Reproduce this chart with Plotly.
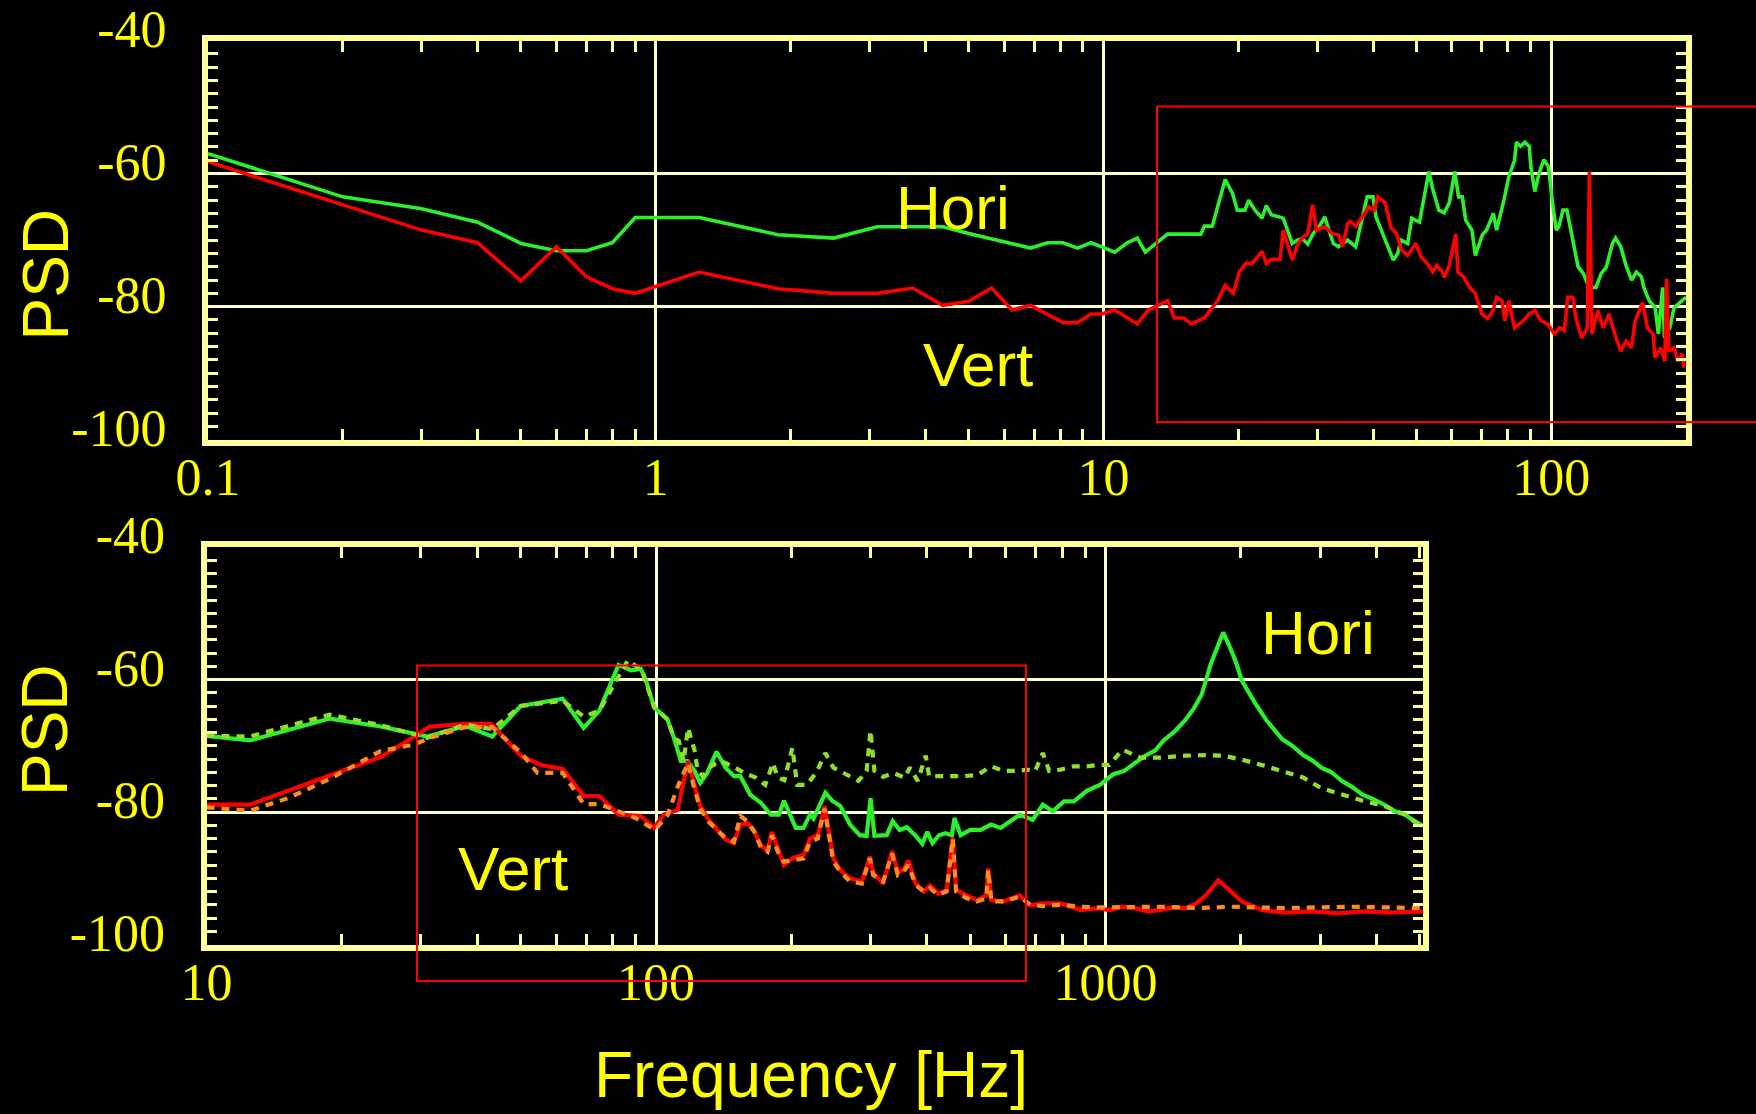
import math
import plotly.graph_objects as go

# ---------------- data ----------------
# Top panel : 0.1 - 200 Hz
top_hori_f = [0.1, 0.2, 0.3, 0.4, 0.5, 0.6, 0.7, 0.8, 0.9, 1.25, 1.875, 2.5, 3.125, 4.375, 5.0,
              6.875, 7.5, 8.125, 8.75, 9.375, 9.9, 10.6, 11.3, 11.9, 12.4, 13.9, 16.5, 16.8, 17.5,
              18.7, 19.4, 19.9, 20.7, 21.1, 21.8, 22.6, 23.1, 23.7, 25.2, 26.4, 27.1, 27.8, 28.6,
              29.4, 30.3, 31.2, 32.6, 33.5, 35.1, 36.6, 37.6, 38.8, 40.0, 40.6, 42.6, 44.4, 45.4,
              46.2, 47.8, 48.8, 50.8, 53.3, 54.4, 56.1, 57.7, 59.2, 60.9, 62.1, 63.3, 64.4, 66.5,
              67.7, 70.2, 71.7, 74.3, 75.5, 78.4, 80.4, 82.8, 83.6, 85.4, 87.3, 89.3, 90.1, 91.9,
              94.0, 96.3, 98.6, 100.9, 102.6, 104.0, 106.2, 108.4, 111.8, 114.8, 117.9, 121.5,
              125.9, 129.4, 132.7, 137.0, 139.2, 143.0, 146.9, 151.2, 155.0, 159.0, 161.0, 165.5,
              170.6, 173.5, 177.4, 179.0, 184.0, 188.0, 196.0, 200.0]
top_hori_db = [-57.0, -63.5, -65.3, -67.3, -70.5, -71.6, -71.6, -70.4, -66.6, -66.6, -69.2, -69.7,
               -68.0, -68.0, -69.0, -71.2, -70.4, -70.4, -71.2, -70.4, -71.0, -71.8, -70.4, -69.7,
               -71.8, -69.1, -69.1, -67.9, -67.9, -60.9, -62.9, -65.5, -65.5, -64.0, -65.5, -66.7,
               -64.8, -66.2, -66.7, -70.5, -70.0, -69.8, -70.6, -69.0, -68.0, -66.5, -70.5, -71.0,
               -70.0, -71.0, -67.5, -63.5, -63.5, -66.5, -70.0, -73.0, -72.0, -70.0, -70.5, -66.7,
               -67.3, -59.7, -62.4, -65.5, -65.9, -64.4, -59.7, -63.5, -63.5, -67.0, -68.5, -72.3,
               -69.2, -68.5, -66.0, -68.5, -64.0, -60.5, -58.0, -55.3, -55.9, -55.3, -55.9, -59.1,
               -62.7, -59.9, -57.9, -59.0, -65.0, -68.5, -68.0, -65.5, -65.5, -70.0, -74.0, -75.0,
               -77.1, -77.1, -75.0, -74.1, -70.5, -69.7, -71.0, -73.8, -76.0, -74.8, -75.5, -77.1,
               -79.1, -80.1, -84.1, -77.1, -84.7, -83.2, -80.2, -79.1, -78.6]

top_vert_f = [0.1, 0.2, 0.3, 0.4, 0.5, 0.6, 0.7, 0.8, 0.9, 1.25, 1.875, 2.5, 3.125, 3.75, 4.375,
              5.0, 5.625, 6.25, 6.875, 8.125, 8.75, 9.375, 9.9, 10.6, 11.9, 12.6, 13.9, 14.4,
              15.1, 15.7, 16.8, 18.0, 18.7, 19.5, 20.1, 20.8, 21.5, 22.6, 23.1, 23.7, 24.8, 25.2,
              26.4, 27.2, 27.8, 28.6, 29.3, 29.9, 31.2, 32.6, 33.5, 34.2, 35.1, 35.6, 36.6, 38.3,
              39.1, 40.2, 41.0, 42.6, 43.9, 45.1, 46.3, 47.8, 49.8, 51.2, 53.3, 54.4, 55.5, 57.2,
              57.7, 59.2, 61.2, 61.9, 63.9, 65.7, 67.7, 70.0, 72.1, 74.1, 75.5, 77.6, 78.8, 80.4,
              82.8, 86.6, 89.3, 91.9, 94.8, 98.2, 101.6, 104.5, 106.9, 108.9, 111.8, 113.5, 117.0,
              120.4, 121.7, 123.3, 127.0, 130.7, 134.6, 138.7, 143.0, 147.0, 151.0, 154.0, 160.0,
              164.0, 168.8, 170.5, 175.6, 179.4, 181.0, 183.0, 188.0, 191.8, 196.0, 198.0]
top_vert_db = [-58.2, -64.7, -68.5, -70.4, -76.1, -71.0, -75.5, -77.3, -78.0, -74.8, -77.3, -78.0,
               -78.0, -77.2, -79.8, -79.2, -77.2, -80.5, -79.8, -82.4, -82.4, -81.1, -81.1, -80.5,
               -82.6, -80.5, -79.1, -81.7, -81.7, -82.6, -81.7, -79.1, -76.8, -78.0, -74.8, -73.5,
               -73.5, -71.7, -73.5, -72.9, -72.9, -68.5, -73.0, -70.5, -69.7, -69.0, -64.7, -68.5,
               -68.0, -69.1, -69.2, -71.0, -67.5, -67.2, -67.9, -66.0, -65.0, -65.5, -63.5, -64.4,
               -68.2, -69.0, -71.5, -72.3, -70.5, -72.5, -73.8, -74.8, -73.8, -74.8, -75.6, -73.8,
               -69.1, -74.8, -75.6, -77.1, -78.0, -81.1, -81.8, -80.6, -78.6, -79.1, -82.1, -79.1,
               -83.2, -82.1, -81.1, -80.6, -82.1, -82.6, -84.1, -83.2, -83.6, -78.6, -78.6, -81.7,
               -84.7, -83.2, -59.7, -84.1, -80.6, -83.2, -81.1, -84.1, -86.7, -85.2, -86.2, -82.1,
               -79.4, -83.2, -84.1, -87.7, -86.2, -88.2, -75.8, -86.7, -86.2, -88.2, -87.1, -89.2]

# Bottom panel : 10 - 5000 Hz
bot_hori_f = [10, 12.5, 18.8, 24.4, 31, 37.6, 43.2, 50, 62, 69, 74.8, 82.5, 88, 92.5, 95, 99, 106,
              109.6, 113.5, 117.4, 121.7, 125.4, 130, 136.3, 142.8, 149, 154, 162, 171, 180, 187.6,
              192.5, 204.5, 212.8, 220, 224, 238, 246.5, 257, 270, 284, 294, 300, 306, 326, 336,
              348, 361, 377, 391, 401, 412, 426, 440, 455, 461, 476, 500, 527, 556, 584, 613, 644,
              688, 725, 763, 808, 850, 908, 971, 1040, 1100, 1160, 1224, 1290, 1346, 1420, 1505,
              1570, 1635, 1713, 1781, 1826, 1892, 1950, 2010, 2080, 2147, 2282, 2380, 2470, 2600,
              2750, 2880, 3020, 3180, 3350, 3530, 3730, 3950, 4170, 4400, 4640, 4850, 5080]
bot_hori_db = [-68.5, -69.2, -65.9, -67.1, -68.6, -67.0, -68.6, -64.0, -62.9, -67.3, -64.7, -57.8,
               -58.6, -58.4, -60.2, -64.2, -66.0, -68.8, -72.3, -72.3, -73.8, -75.6, -74.1, -70.9,
               -73.3, -74.6, -74.6, -77.4, -78.6, -80.4, -80.4, -78.3, -82.4, -82.4, -80.4, -81.0,
               -77.1, -78.3, -79.1, -81.9, -83.5, -83.6, -77.9, -83.6, -83.5, -81.4, -82.7, -82.3,
               -83.5, -84.8, -83.0, -84.7, -83.5, -83.2, -83.5, -80.9, -83.5, -82.7, -82.7, -81.9,
               -82.4, -81.4, -80.4, -81.2, -78.9, -79.9, -78.4, -78.4, -76.8, -75.9, -74.3, -73.8,
               -72.6, -71.5, -70.7, -69.2, -67.9, -66.1, -64.4, -62.3, -57.7, -54.8, -52.9, -55.2,
               -57.4, -60.2, -62.0, -63.5, -66.2, -67.7, -69.0, -70.0, -71.4, -72.2, -73.3, -74.0,
               -75.3, -76.2, -77.4, -78.1, -78.9, -79.9, -80.4, -81.3, -82.1]

bot_hori_ref_f = [10, 12.5, 18.8, 24.4, 31, 37.6, 43.2, 50, 62, 69, 74.8, 86.5, 93, 99, 106, 109.6,
                  112.4, 115.1, 117.8, 121.7, 123.8, 127, 132.4, 139.2, 148, 157, 166.6, 175, 182,
                  186.5, 193, 201, 206, 216.5, 227, 238, 248, 267, 282, 294, 300, 306, 320, 337,
                  357, 367, 382, 398, 405, 422, 450, 482, 519, 556, 593, 635, 671, 697, 725, 749,
                  795, 850, 908, 964, 1019, 1090, 1196, 1320, 1505, 1665, 1826, 2010, 2225, 2470,
                  2750, 3020, 3350, 3730, 4170, 4640, 5080]
bot_hori_ref_db = [-68.5, -68.6, -65.3, -66.9, -68.8, -66.8, -67.5, -64.0, -63.2, -65.6, -64.7,
                   -57.1, -58.6, -64.2, -66.0, -68.8, -69.3, -72.3, -67.3, -70.6, -73.8, -74.6,
                   -73.1, -72.3, -73.1, -74.1, -74.8, -75.9, -72.6, -74.8, -75.2, -70.3, -75.9,
                   -75.9, -74.1, -71.1, -73.3, -74.4, -75.3, -73.8, -67.7, -73.8, -74.7, -74.1,
                   -74.8, -73.3, -75.3, -71.5, -74.6, -74.6, -74.6, -74.6, -74.4, -73.1, -73.8,
                   -73.8, -73.6, -73.8, -71.1, -73.8, -73.6, -73.1, -73.1, -72.9, -72.9, -70.6,
                   -71.8, -71.8, -71.5, -71.4, -71.5, -72.1, -72.9, -73.8, -74.8, -76.4, -77.4,
                   -78.3, -79.1, -80.4, -82.4]

bot_vert_f = [10, 12.5, 18.8, 24.4, 28.7, 31.4, 37.6, 43, 50, 55.4, 62, 69, 74.8, 82.5, 92.5, 99,
              104, 111.7, 117.8, 121.7, 125.4, 131, 137, 143, 149, 154, 160, 165.5, 171, 177, 181,
              186.6, 192.5, 202, 213, 220, 229, 237, 242, 248, 257, 270, 287, 299, 304, 320, 335,
              345, 355, 364, 378, 394, 407, 424, 443, 457, 465, 490, 517, 543, 548, 557, 593, 644,
              680, 725, 795, 880, 964, 1019, 1090, 1160, 1240, 1320, 1410, 1505, 1590, 1670, 1781,
              1865, 2010, 2225, 2500, 2880, 3300, 3730, 4300, 5080]
bot_vert_db = [-78.9, -78.9, -74.5, -71.7, -68.8, -67.1, -66.7, -66.7, -71.5, -72.9, -73.5, -77.6,
               -77.6, -80.4, -80.6, -82.4, -80.4, -79.7, -72.3, -75.9, -79.1, -81.2, -82.7, -84.2,
               -84.7, -81.9, -81.7, -83.0, -85.0, -85.9, -83.0, -85.7, -88.0, -86.9, -86.5, -84.0,
               -83.5, -79.1, -83.0, -87.0, -88.8, -90.0, -90.5, -86.7, -89.2, -90.8, -85.9, -89.0,
               -88.8, -87.3, -90.8, -92.0, -91.1, -92.3, -91.8, -83.9, -91.8, -92.6, -93.3, -92.6,
               -88.5, -93.3, -93.5, -92.6, -94.1, -93.8, -93.8, -94.8, -94.5, -94.8, -94.3, -94.5,
               -95.0, -94.8, -94.4, -94.5, -93.8, -92.6, -90.3, -91.5, -93.5, -94.8, -95.2, -95.0,
               -95.3, -95.0, -95.2, -95.0]

bot_vert_ref_f = [10, 12.5, 15.2, 18.8, 24.4, 29, 31.4, 37.6, 43.2, 50, 54.5, 62, 69, 74.8, 82.5,
                  90, 99.5, 106, 112, 117.8, 121.7, 125.4, 131, 137, 143, 149, 154, 160, 165.5,
                  171, 177, 181, 186.6, 192.5, 202, 213, 220, 229, 237, 242, 248, 257, 270, 287,
                  299, 304, 320, 335, 345, 355, 364, 378, 394, 407, 424, 443, 457, 465, 490, 517,
                  543, 548, 557, 593, 644, 680, 725, 795, 880, 964, 1100, 1320, 1600, 1900, 2500,
                  3500, 5080]
bot_vert_ref_db = [-79.3, -79.8, -77.9, -75.0, -70.8, -69.8, -68.8, -67.2, -67.2, -71.0, -74.1,
                   -74.1, -78.8, -78.8, -79.9, -80.9, -82.7, -80.5, -76.0, -72.6, -76.5, -79.5,
                   -81.5, -82.7, -84.0, -84.5, -80.6, -81.5, -83.0, -85.3, -86.0, -83.5, -86.0,
                   -87.5, -87.3, -87.0, -84.5, -84.0, -79.5, -83.0, -87.5, -89.0, -90.5, -90.8,
                   -87.0, -89.5, -90.5, -86.3, -89.5, -89.0, -88.0, -91.0, -92.0, -91.5, -92.5,
                   -92.0, -84.0, -92.0, -93.0, -93.5, -93.0, -88.7, -93.5, -93.5, -92.8, -94.0,
                   -94.2, -94.0, -94.3, -94.4, -94.3, -94.3, -94.5, -94.3, -94.5, -94.3, -94.5]

top_ticks = [0.1, 1, 10, 100]
top_ticktext = ["0.1", "1", "10", "100"]
bot_ticks = [10, 100, 1000]
bot_ticktext = ["10", "100", "1000"]
y_ticks = [-100, -80, -60, -40]
y_ticktext = ["-100", "-80", "-60", "-40"]

# ---------------- styling ----------------
W, H = 1756, 1114
FRAME = "#ffff99"
GRID = "#ffffcc"
TXT = "#ffff00"
GREEN = "#2cf02c"
GREEN_REF = "#8ee02a"
RED = "#ff0000"
ORANGE = "#ff8c1e"


def px(x):
    return x / W


def py(y):
    return 1 - y / H


def minor_log(lo_exp, hi_exp, fmax):
    vals = []
    for e in range(lo_exp, hi_exp + 1):
        for d in range(2, 10):
            v = d * 10 ** e
            if v < fmax:
                vals.append(v)
    return vals


fig = go.Figure()

fig.add_trace(go.Scatter(x=top_hori_f, y=top_hori_db, mode="lines", line=dict(color=GREEN, width=3.6),
                         xaxis="x", yaxis="y"))
fig.add_trace(go.Scatter(x=top_vert_f, y=top_vert_db, mode="lines", line=dict(color=RED, width=3.6),
                         xaxis="x", yaxis="y"))

fig.add_trace(go.Scatter(x=bot_hori_f, y=bot_hori_db, mode="lines", line=dict(color=GREEN, width=4.2),
                         xaxis="x2", yaxis="y2"))
fig.add_trace(go.Scatter(x=bot_vert_f, y=bot_vert_db, mode="lines", line=dict(color=RED, width=4.2),
                         xaxis="x2", yaxis="y2"))
fig.add_trace(go.Scatter(x=bot_hori_ref_f, y=bot_hori_ref_db, mode="lines",
                         line=dict(color=GREEN_REF, width=4.2, dash="8px,7px"), xaxis="x2", yaxis="y2"))
fig.add_trace(go.Scatter(x=bot_vert_ref_f, y=bot_vert_ref_db, mode="lines",
                         line=dict(color=ORANGE, width=4.2, dash="8px,7px"), xaxis="x2", yaxis="y2"))

tickfont = dict(family="Liberation Serif", size=52, color=TXT)


def xaxis_cfg(dom, rng, tv, tt, minors, anchor):
    return dict(type="log", domain=dom, range=rng, anchor=anchor, automargin=False,
                showline=True, linecolor=FRAME, linewidth=6, mirror="allticks",
                showgrid=True, gridcolor=GRID, gridwidth=3, zeroline=False,
                tickmode="array", tickvals=tv, ticktext=tt, ticks="",
                tickfont=tickfont, ticklabelstandoff=-13, ticklabeloverflow="allow",
                minor=dict(tickmode="array", tickvals=minors, ticks="inside", ticklen=11,
                           tickwidth=3, tickcolor=FRAME, showgrid=False))


def yaxis_cfg(dom, anchor):
    return dict(domain=dom, range=[-100, -40], anchor=anchor, automargin=False,
                showline=True, linecolor=FRAME, linewidth=6, mirror="allticks",
                showgrid=True, gridcolor=GRID, gridwidth=3, zeroline=False,
                tickmode="array", tickvals=y_ticks, ticktext=y_ticktext, ticks="",
                tickfont=tickfont, ticklabelstandoff=25, ticklabelshift=-12,
                ticklabeloverflow="allow",
                minor=dict(tickmode="array", tickvals=[v for v in range(-98, -40, 2) if v % 20 != 0],
                           ticks="inside", ticklen=10, tickwidth=3, tickcolor=FRAME, showgrid=False))


fig.update_layout(
    width=W, height=H, margin=dict(l=0, r=0, t=0, b=0, autoexpand=False),
    paper_bgcolor="black", plot_bgcolor="black", showlegend=False,
    xaxis=xaxis_cfg([px(208), px(1686)], [-1, math.log10(200)], top_ticks, top_ticktext,
                    minor_log(-1, 2, 200), "y"),
    yaxis=yaxis_cfg([py(439.7), py(40.5)], "x"),
    xaxis2=xaxis_cfg([px(206.5), px(1423)], [1, 3.706], bot_ticks, bot_ticktext,
                     minor_log(1, 3, 5080), "y2"),
    yaxis2=yaxis_cfg([py(944.5), py(547)], "x2"),
)

ann_font = dict(family="Liberation Sans", size=62, color=TXT)
labels = [
    ("Hori", 953, 207, 0), ("Vert", 978, 364, 0),
    ("Hori", 1318, 632, 0), ("Vert", 513, 868, 0),
]
for t, x, y, a in labels:
    fig.add_annotation(text=t, x=px(x), y=py(y), xref="paper", yref="paper",
                       showarrow=False, font=ann_font, xanchor="center", yanchor="middle")

for y in (274.5, 730):
    fig.add_annotation(text="PSD", x=px(45), y=py(y), xref="paper", yref="paper", showarrow=False,
                       textangle=-90, font=dict(family="Liberation Sans", size=64, color=TXT),
                       xanchor="center", yanchor="middle")

fig.add_annotation(text="Frequency [Hz]", x=px(811), y=py(1075), xref="paper", yref="paper",
                   showarrow=False, font=dict(family="Liberation Sans", size=64, color=TXT),
                   xanchor="center", yanchor="middle")

# red highlight rectangles
fig.add_shape(type="rect", xref="paper", yref="paper", x0=px(1157), x1=px(1770),
              y0=py(422), y1=py(106.5), line=dict(color=RED, width=2))
fig.add_shape(type="rect", xref="paper", yref="paper", x0=px(417), x1=px(1026),
              y0=py(981), y1=py(665.5), line=dict(color=RED, width=2))

fig.write_html("out.html")
